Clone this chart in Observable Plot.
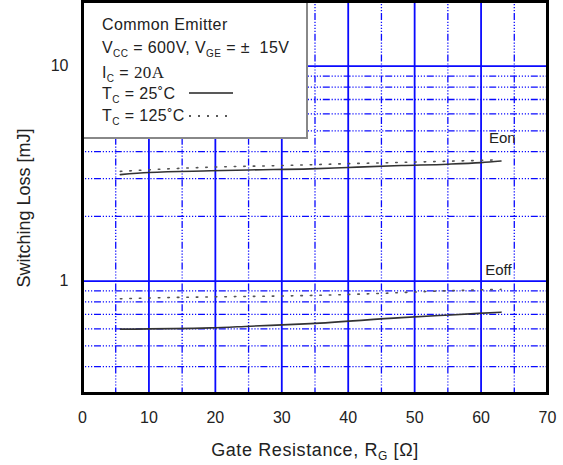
<!DOCTYPE html>
<html>
<head>
<meta charset="utf-8">
<script src="https://cdn.jsdelivr.net/npm/d3@7"></script>
<script src="https://cdn.jsdelivr.net/npm/@observablehq/plot@0.6"></script>
<style>
  html, body { margin: 0; padding: 0; background: #fff; }
  #chart { position: relative; width: 563px; height: 465px; }
</style>
</head>
<body>
<div id="chart"></div>
<script>
// ---- data ----
const xTicks = [0, 10, 20, 30, 40, 50, 60, 70];
const yTicks = [1, 10];
const majorX = [10, 20, 30, 40, 50, 60];
const minorX = [5, 15, 25, 35, 45, 55, 65];
const majorY = [1, 10];
const minorY = [0.4, 0.5, 0.6, 0.7, 0.8, 0.9, 2, 3, 4, 5, 6, 7, 8, 9];

const eon25X  = [5.7, 10, 19.3, 25, 34.3, 40, 48, 55, 60, 63];
const eon25Y  = [3.13, 3.2, 3.26, 3.29, 3.33, 3.38, 3.45, 3.5, 3.56, 3.62];
const eon125X = [5.7, 12, 19.3, 30, 40, 50, 62];
const eon125Y = [3.24, 3.32, 3.39, 3.45, 3.52, 3.58, 3.66];
const eoff25X  = [5.7, 19.3, 25.3, 34.3, 48, 55.4, 63];
const eoff25Y  = [0.598, 0.606, 0.617, 0.634, 0.676, 0.696, 0.717];
const eoff125X = [5.7, 11.7, 20, 33, 45, 54, 63];
const eoff125Y = [0.828, 0.837, 0.845, 0.856, 0.877, 0.9, 0.915];

const curveLabels = ["Eon", "Eoff"];
const curveLabelX = [63.2, 62.6];
const curveLabelY = [4.64, 1.124];

const toRows = (xs, ys) => xs.map((x, i) => ({x, y: ys[i]}));
const labelRows = curveLabels.map((t, i) => ({t, x: curveLabelX[i], y: curveLabelY[i]}));

const BLUE = "#0a0aff";
const FONT = "'Liberation Sans', Arial, sans-serif";
const minorDash = "1.2,1.8,1.2,1.8,1.2,1.8,1.2,1.8,7,1.8";

const plot = Plot.plot({
  width: 563,
  height: 465,
  marginLeft: 82,
  marginRight: 16,
  marginTop: 1,
  marginBottom: 72,
  style: {fontFamily: FONT, fontSize: "16px", color: "#222", background: "#fff"},
  x: {domain: [0, 70], ticks: xTicks, tickSize: 0, tickPadding: 18, label: null},
  y: {type: "log", domain: [0.3, 20], ticks: yTicks, tickFormat: d => String(d), tickSize: 0, tickPadding: 14, label: null},
  marks: [
    Plot.ruleX(minorX, {stroke: BLUE, strokeWidth: 1.3, strokeDasharray: minorDash}),
    Plot.ruleY(minorY, {stroke: BLUE, strokeWidth: 1.3, strokeDasharray: minorDash}),
    Plot.ruleX(majorX, {stroke: BLUE, strokeWidth: 1.8}),
    Plot.ruleY(majorY, {stroke: BLUE, strokeWidth: 1.8}),
    Plot.line(toRows(eon125X, eon125Y), {x: "x", y: "y", stroke: "#555", strokeWidth: 1.6, strokeDasharray: "1.5,8", curve: "monotone-x"}),
    Plot.line(toRows(eon25X, eon25Y), {x: "x", y: "y", stroke: "#333", strokeWidth: 1.6, curve: "monotone-x"}),
    Plot.line(toRows(eoff125X, eoff125Y), {x: "x", y: "y", stroke: "#555", strokeWidth: 1.6, strokeDasharray: "1.5,8", curve: "monotone-x"}),
    Plot.line(toRows(eoff25X, eoff25Y), {x: "x", y: "y", stroke: "#333", strokeWidth: 1.6, curve: "monotone-x"}),
    Plot.text(labelRows, {x: "x", y: "y", text: "t", fontSize: 15, fill: "#222"}),
    Plot.axisX({ticks: xTicks, tickSize: 0, tickPadding: 18, label: null, fontSize: 16}),
    Plot.axisY({ticks: yTicks, tickFormat: d => String(d), tickSize: 0, tickPadding: 14, label: null, fontSize: 16}),
    Plot.frame({stroke: "#000", strokeWidth: 3})
  ]
});

// Legend box (annotation) inserted below the frame
const svg = d3.select(plot);
const frameEl = plot.querySelector('[aria-label="frame"]');
const g = document.createElementNS("http://www.w3.org/2000/svg", "g");
plot.insertBefore(g, frameEl);
const lg = d3.select(g).attr("font-family", FONT).attr("fill", "#222").attr("text-anchor", "start");
lg.append("rect").attr("x", 82).attr("y", 0).attr("width", 225).attr("height", 138)
  .attr("fill", "#fff").attr("stroke", "#888").attr("stroke-width", 2);

const addLine = (y, parts) => {
  const t = lg.append("text").attr("x", 102).attr("y", y).attr("font-size", 16)
    .attr("letter-spacing", 0.4).attr("text-anchor", "start");
  parts.forEach(p => {
    const s = t.append("tspan").text(p.t);
    if (p.sub) s.attr("font-size", 10).attr("dy", 4);
    if (p.up) s.attr("dy", -4);
    if (p.serif) s.attr("font-family", "'Liberation Serif', 'Times New Roman', serif").attr("font-size", 17);
  });
};
addLine(30, [{t: "Common Emitter"}]);
addLine(53, [{t: "V"}, {t: "CC", sub: true}, {t: " = 600V, V", up: true}, {t: "GE", sub: true}, {t: " = ±  15V", up: true}]);
addLine(78, [{t: "I"}, {t: "C", sub: true}, {t: " = ", up: true}, {t: "20A", serif: true}]);
addLine(99, [{t: "T"}, {t: "C", sub: true}, {t: " = 25˚C", up: true}]);
addLine(121, [{t: "T"}, {t: "C", sub: true}, {t: " = 125˚C", up: true}]);
lg.append("line").attr("x1", 189).attr("x2", 233).attr("y1", 93).attr("y2", 93).attr("stroke", "#222").attr("stroke-width", 1.5);
lg.append("line").attr("x1", 189).attr("x2", 231).attr("y1", 116).attr("y2", 116).attr("stroke", "#222").attr("stroke-width", 1.5).attr("stroke-dasharray", "2,7");

// Axis titles
svg.append("text").attr("x", 315).attr("y", 456).attr("text-anchor", "middle")
  .attr("font-family", FONT).attr("font-size", 18).attr("fill", "#222").attr("letter-spacing", 0.6)
  .call(t => {
    t.append("tspan").text("Gate Resistance, R");
    t.append("tspan").text("G").attr("font-size", 12).attr("dy", 4);
    t.append("tspan").text(" [Ω]").attr("dy", -4);
  });
svg.append("text").attr("transform", "translate(30,208) rotate(-90)").attr("text-anchor", "middle")
  .attr("font-family", FONT).attr("font-size", 18).attr("fill", "#222")
  .text("Switching Loss [mJ]");

document.getElementById("chart").appendChild(plot);
</script>
</body>
</html>
